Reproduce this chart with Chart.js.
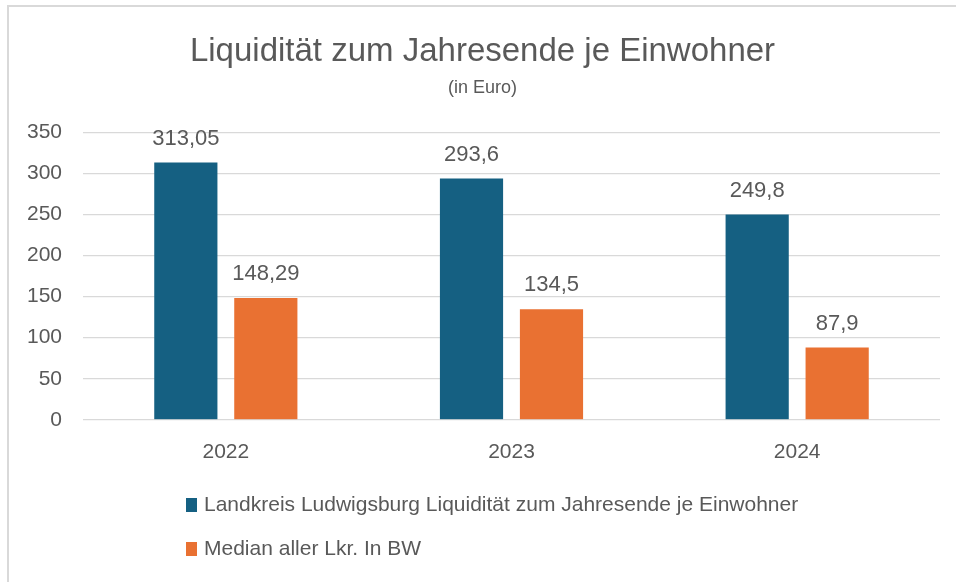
<!DOCTYPE html>
<html>
<head>
<meta charset="utf-8">
<script src="https://cdn.jsdelivr.net/npm/chart.js@4.4.1/dist/chart.umd.min.js"></script>
<style>
  html, body { margin: 0; padding: 0; background: #ffffff; }
  #frame { position: absolute; left: 7px; top: 5px; width: 960px; height: 590px;
           border-top: 2px solid #d9d9d9; border-left: 2px solid #d9d9d9; z-index: 0; }
  #c { position: absolute; left: 0; top: 0; z-index: 1; }
</style>
</head>
<body>
<div id="frame"></div>
<canvas id="c" width="956" height="582"></canvas>
<script>
const categories = ["2022", "2023", "2024"];
const seriesNames = ["Landkreis Ludwigsburg Liquidität zum Jahresende je Einwohner", "Median aller Lkr. In BW"];
const landkreisValues = [313.05, 293.6, 249.8];
const medianValues = [148.29, 134.5, 87.9];
const titleText = "Liquidität zum Jahresende je Einwohner";
const subtitleText = "(in Euro)";

const BLUE = "#156082";
const ORANGE = "#E97132";
const TEXT = "#595959";
const FONT = "'Liberation Sans', Arial, sans-serif";

function fmt(v) { return String(v).replace('.', ','); }

const valueLabels = {
  id: 'valueLabels',
  afterDatasetsDraw(chart) {
    const ctx = chart.ctx;
    ctx.save();
    ctx.font = "22px " + FONT;
    ctx.fillStyle = TEXT;
    ctx.textAlign = 'center';
    ctx.textBaseline = 'middle';
    chart.data.datasets.forEach((ds, di) => {
      const meta = chart.getDatasetMeta(di);
      meta.data.forEach((bar, i) => {
        ctx.fillText(fmt(ds.data[i]), bar.x, bar.y - 24);
      });
    });
    ctx.restore();
  }
};

const customLegend = {
  id: 'customLegend',
  afterDraw(chart) {
    const ctx = chart.ctx;
    ctx.save();
    ctx.font = "21px " + FONT;
    ctx.textAlign = 'left';
    ctx.textBaseline = 'middle';
    const x0 = 186;
    const ys = [505, 549];
    chart.data.datasets.forEach((ds, di) => {
      const y = ys[di];
      ctx.fillStyle = ds.backgroundColor;
      ctx.fillRect(x0, y - 7, 11, 14);
      ctx.fillStyle = TEXT;
      ctx.fillText(ds.label, x0 + 18, y);
    });
    ctx.restore();
  }
};

new Chart(document.getElementById('c'), {
  type: 'bar',
  data: {
    labels: categories,
    datasets: [
      { label: seriesNames[0], data: landkreisValues, backgroundColor: BLUE,
        categoryPercentage: 0.56, barPercentage: 0.79 },
      { label: seriesNames[1], data: medianValues, backgroundColor: ORANGE,
        categoryPercentage: 0.56, barPercentage: 0.79 }
    ]
  },
  options: {
    responsive: false,
    animation: false,
    devicePixelRatio: 1,
    layout: { padding: { left: 25, right: 16, top: 0, bottom: 97 } },
    plugins: {
      legend: { display: false },
      tooltip: { enabled: false },
      title: {
        display: true, text: titleText, color: TEXT,
        font: { family: FONT, size: 33, weight: 'normal', lineHeight: 1.2 },
        padding: { top: 32, bottom: 6 }
      },
      subtitle: {
        display: true, text: subtitleText, color: TEXT,
        font: { family: FONT, size: 18, weight: 'normal', lineHeight: 1.2 },
        padding: { top: 0, bottom: 33 }
      }
    },
    scales: {
      x: {
        grid: { display: false, drawTicks: false },
        border: { display: false },
        ticks: { color: TEXT, font: { family: FONT, size: 21 }, padding: 20 }
      },
      y: {
        min: 0, max: 350,
        afterFit(scale) { scale.width = 58; },
        grid: { color: '#d9d9d9', lineWidth: 1.3, drawTicks: false },
        border: { display: false },
        ticks: { stepSize: 50, color: TEXT, font: { family: FONT, size: 21 }, padding: 21 }
      }
    }
  },
  plugins: [valueLabels, customLegend]
});
</script>
</body>
</html>
